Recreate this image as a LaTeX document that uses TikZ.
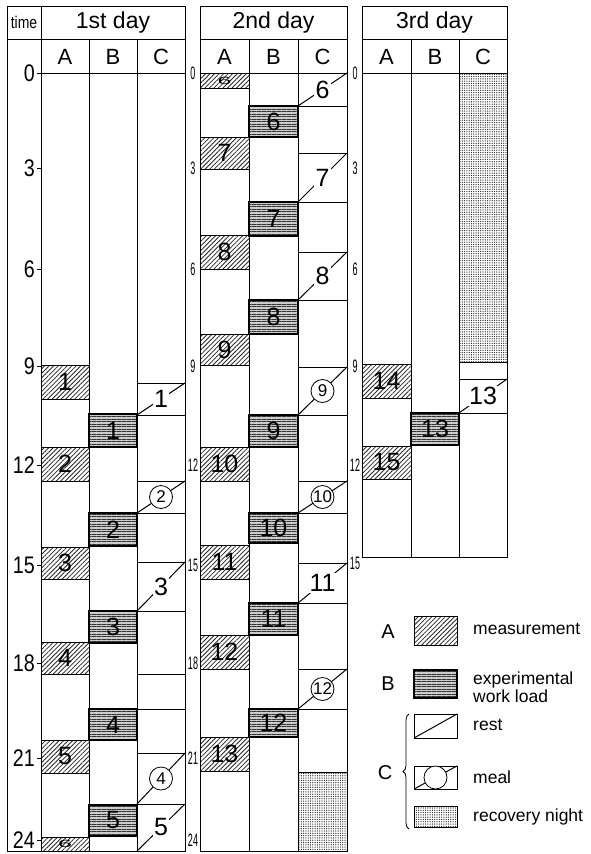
\documentclass[tikz,border=0pt]{standalone}
\usepackage{fontspec}
\setmainfont{Liberation Sans}
\newfontfamily\condFont[FakeStretch=0.82]{Liberation Sans}
\newfontfamily\narrowFont[FakeStretch=0.5]{Liberation Sans}
\usetikzlibrary{patterns.meta,decorations.pathreplacing}

\tikzset{
    tsGrid/.style={draw=black, line width=1pt},
    % Cell fills
    tsMeasure/.style={
        draw=black, 
        line width=1pt, 
        pattern={Lines[angle=45,distance=3.2pt,line width=0.8pt]}, 
        pattern color=black!85
    },
    tsLoad/.style={
        draw=black, 
        line width=1.3pt, 
        preaction={fill=black!20}, 
        pattern={Lines[angle=0,distance=2.5pt,line width=0.8pt]}, 
        pattern color=black!80
    },
    tsNight/.style={
        draw=black, 
        line width=1pt, 
        pattern={Dots[distance=2.3pt,radius=0.65pt]}, 
        pattern color=black!85
    },
    tsRest/.style={draw=black, line width=1pt},
    % Labels
    tsHead/.style={font=\fontsize{23}{24}\selectfont, inner sep=0pt},
    tsCol/.style={font=\fontsize{22}{23}\selectfont, inner sep=0pt},
    tsNum/.style={font=\fontsize{25}{26}\selectfont, inner sep=0.5pt},
    tsRestNum/.style={tsNum, fill=white, inner sep=1.5pt},
    tsMealNum/.style={
        circle, draw, fill=white, line width=0.8pt, 
        minimum size=23pt, inner sep=0pt, 
        font=\fontsize{17}{18}\selectfont
    },
    tsHour/.style={font=\condFont\fontsize{24}{24}\selectfont, inner sep=0pt},
    tsHourSmall/.style={font=\narrowFont\fontsize{18}{18}\selectfont, inner sep=0pt},
    tsLegend/.style={font=\fontsize{17.5}{18.5}\selectfont, inner sep=0pt, anchor=west, align=left},
    tsLegLetter/.style={font=\fontsize{20}{21}\selectfont, inner sep=0pt}
}

\begin{document}
\begin{tikzpicture}[x=1pt, y=-1pt]
\useasboundingbox (0,0) rectangle (591,854);

% time column of the first day
\draw[tsGrid] (7,6) rectangle (41,851);
\draw[tsGrid] (7,39) -- (41,39);
\node[font=\condFont\fontsize{17}{18}\selectfont, inner sep=0pt] (hdTime) at (24,22.5) {time};

% day frames
\foreach \xA/\xB/\xC/\xR/\yEnd/\dayN/\dayTxt in {41/89/137/185/851/1/1st, 200/249/298/347/851/2/2nd, 362/411/459/507/557/3/3rd} {
    \draw[tsGrid] (\xA,6) rectangle (\xR,\yEnd);
    \draw[tsGrid] (\xA,39) -- (\xR,39) (\xA,73) -- (\xR,73);
    \draw[tsGrid] (\xB,39) -- (\xB,\yEnd) (\xC,39) -- (\xC,\yEnd);
    \node[tsHead] (hdDay\dayN) at ({(\xA+\xR)/2},22.5) {\dayTxt\ day};
    \node[tsCol] (colA\dayN) at ({(\xA+\xB)/2},56.5) {A};
    \node[tsCol] (colB\dayN) at ({(\xB+\xC)/2},56.5) {B};
    \node[tsCol] (colC\dayN) at ({(\xC+\xR)/2},56.5) {C};
}

% hour scale
\foreach \hr/\yHr in {0/73, 3/168, 6/269, 9/366, 12/465, 15/565, 18/663, 21/758, 24/840} {
    \node[tsHour, anchor=east] (hrOne\hr) at (35,\yHr) {\hr};
    \draw[line width=0.6pt] (37,\yHr) -- (41,\yHr);
    \node[tsHourSmall] (hrTwo\hr) at (193,\yHr) {\hr};
}
\foreach \hr/\yHr in {0/73, 3/168, 6/269, 9/366, 12/465, 15/563} {
    \node[tsHourSmall] (hrThree\hr) at (355,\yHr) {\hr};
}

% A: measurement
\foreach \xL/\xR/\yTop/\yBot/\lbl in {
    41/89/365/399/1, 41/89/447/481/2, 41/89/547/579/3, 41/89/642/674/4, 41/89/740/773/5,
    200/249/137/169/7, 200/249/235/269/8, 200/249/334/365/9, 200/249/447/481/10,
    200/249/545/579/11, 200/249/635/669/12, 200/249/737/771/13,
    362/411/364/398/14, 362/411/446/479/15} {
    \path[tsMeasure] (\xL,\yTop) rectangle (\xR,\yBot);
    \node[tsNum] (meas\lbl) at ({(\xL+\xR)/2},{(\yTop+\yBot)/2}) {\lbl};
}
\path[tsMeasure] (41,837) rectangle (89,851);
\node[tsNum] (measSixA) at (65,844) {\scalebox{1}[0.42]{6}};
\path[tsMeasure] (200,73) rectangle (249,88);
\node[tsNum] (measSixB) at (224.5,80.5) {\scalebox{1}[0.42]{6}};

% B: experimental work load
\foreach \xL/\xR/\yTop/\yBot/\lbl in {
    89/137/414/447/1, 89/137/513/546/2, 89/137/611/643/3, 89/137/709/740/4, 89/137/805/836/5,
    249/298/106/137/6, 249/298/202/236/7, 249/298/300/334/8, 249/298/415/447/9,
    249/298/513/543/10, 249/298/603/635/11, 249/298/709/737/12,
    411/459/413/445/13} {
    \path[tsLoad] (\xL,\yTop) rectangle (\xR,\yBot);
    \node[tsNum] (load\lbl) at ({(\xL+\xR)/2},{(\yTop+\yBot)/2}) {\lbl};
}

% C: rest, meal, recovery night
\foreach \xL/\xR/\yTop/\yBot/\lbl in {
    137/185/383/415/1, 137/185/562/611/3, 137/185/804/851/5,
    298/347/73/106/6, 298/347/153/202/7, 298/347/252/300/8, 298/347/563/603/11,
    459/507/379/413/13} {
    \draw[tsRest] (\xL,\yTop) rectangle (\xR,\yBot);
    \draw[tsRest] (\xL,\yBot) -- (\xR,\yTop);
    \node[tsRestNum] (rest\lbl) at ({(\xL+\xR)/2},{(\yTop+\yBot)/2}) {\lbl};
}
\foreach \xL/\xR/\yTop/\yBot/\lbl in {
    137/185/481/513/2, 137/185/753/804/4,
    298/347/367/415/9, 298/347/481/513/10, 298/347/669/709/12} {
    \draw[tsRest] (\xL,\yTop) rectangle (\xR,\yBot);
    \draw[tsRest] (\xL,\yBot) -- (\xR,\yTop);
    \node[tsMealNum] (meal\lbl) at ({(\xL+\xR)/2},{(\yTop+\yBot)/2}) {\lbl};
}
\draw[tsGrid] (137,674) -- (185,674) (137,709) -- (185,709);
\path[tsNight] (298,772) rectangle (347,851);
\path[tsNight] (459,73) rectangle (507,362);

% legend
\node[tsLegLetter] (legA) at (388,632) {A};
\path[tsMeasure] (414,616) rectangle (457,645);
\node[tsLegend] (legMeas) at (473,629) {measurement};

\node[tsLegLetter] (legB) at (388,684) {B};
\path[tsLoad] (414,670) rectangle (457,698);
\node[tsLegend] (legLoad) at (473,687) {experimental\\work load};

\draw[tsRest] (414,714) rectangle (457,738);
\draw[tsRest] (414,738) -- (457,714);
\node[tsLegend] (legRest) at (473,725) {rest};

\draw[tsRest] (414,766) rectangle (457,789);
\draw[tsRest] (414,789) -- (457,766);
\node[circle, draw, fill=white, line width=0.8pt, minimum size=23pt, inner sep=0pt] (legPlate) at (435.5,777.5) {};
\node[tsLegend] (legMeal) at (473,777) {meal};

\path[tsNight] (414,806) rectangle (457,827);
\node[tsLegend] (legNight) at (473,817) {recovery night};

\node[tsLegLetter] (legC) at (385,773) {C};
\draw[line width=0.8pt, decorate, decoration={brace, amplitude=6pt}] (409,829) -- (409,714);
\end{tikzpicture}
\end{document}
